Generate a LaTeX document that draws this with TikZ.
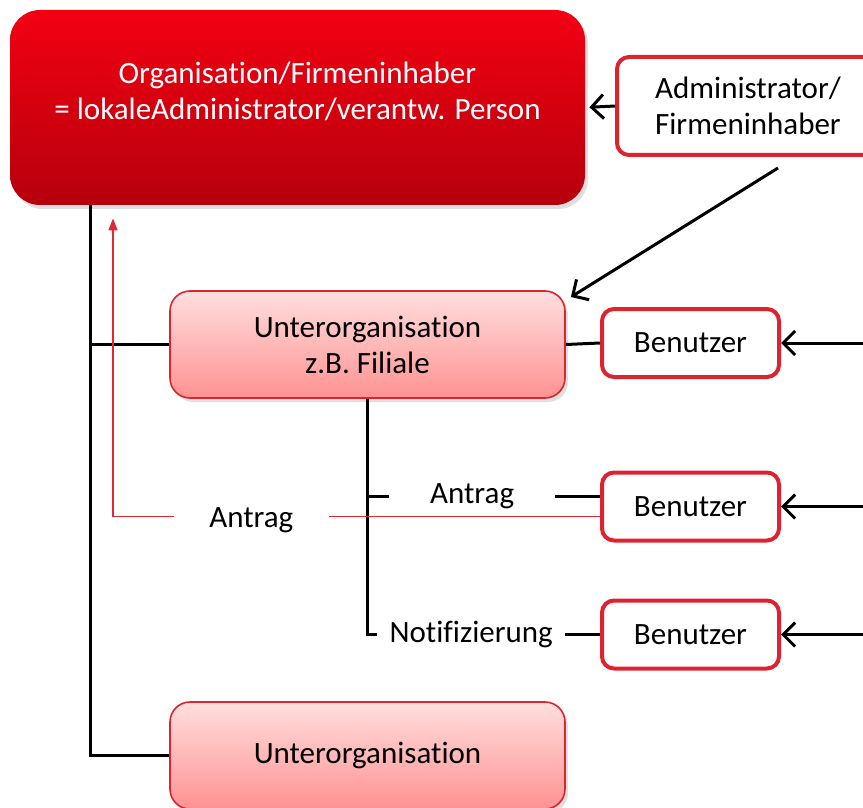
\documentclass[tikz,border=0pt]{standalone}
\usepackage{fontspec}
\setmainfont{Carlito}[RawFeature=-liga, RawFeature=-calt, RawFeature=-clig]
\usetikzlibrary{arrows.meta,shadows}

\definecolor{orgtop}{RGB}{242,0,18}
\definecolor{orgbottom}{RGB}{182,0,12}
\definecolor{subtop}{RGB}{255,222,222}
\definecolor{subbottom}{RGB}{255,146,146}
\definecolor{boxred}{RGB}{220,36,48}
\definecolor{linered}{RGB}{226,40,52}

\begin{document}
\begin{tikzpicture}[x=0.5pt,y=-0.5pt,
    font=\fontsize{15.5}{18}\selectfont,
    orgbox/.style={rounded corners=15pt, top color=orgtop, bottom color=orgbottom,
      minimum width=287.5pt, minimum height=97.5pt, inner sep=0pt,
      drop shadow={opacity=0.25, shadow xshift=1.5pt, shadow yshift=-2pt}},
    subbox/.style={rounded corners=10pt, draw=boxred, line width=0.8pt,
      top color=subtop, bottom color=subbottom, align=center,
      minimum width=197.5pt, minimum height=53.5pt, inner sep=0pt,
      drop shadow={opacity=0.25, shadow xshift=1.5pt, shadow yshift=-2pt}},
    userbox/.style={rounded corners=6pt, draw=boxred, line width=2pt, fill=white,
      minimum width=88.5pt, minimum height=34pt, inner sep=0pt, align=center},
    conn/.style={line width=1.5pt},
    arr/.style={line width=1.5pt, -{Straight Barb[length=6pt,width=12pt]}},
    redline/.style={linered, line width=0.8pt, -{Triangle[length=6pt,width=4.5pt]}},
    gaplabel/.style={fill=white, text=black, inner ysep=1pt}]
  \useasboundingbox (0,0) rectangle (863,808);

  % Boxes
  \node[orgbox] (org) at (297.5,107.5) {};
  \node[white, align=center] (orgtext) at (297.5,91)
    {Organisation/Firmeninhaber\\= lokaleAdministrator/verantw. Person};
  \node[userbox, minimum width=131pt, minimum height=49pt] (admin) at (748,106)
    {Administrator/\\Firmeninhaber};
  \node[subbox] (u1) at (367.5,344.5) {Unterorganisation\\z.B. Filiale};
  \node[subbox] (u2) at (367.5,755.5) {Unterorganisation};
  \node[userbox] (b1) at (690.5,343) {Benutzer};
  \node[userbox] (b2) at (690.5,506.5) {Benutzer};
  \node[userbox] (b3) at (690.5,634.5) {Benutzer};

  % Free ends and corners
  \coordinate (trunk) at (90,0);
  \coordinate (diagstart) at (778,168);
  \coordinate (in1) at (875,343);
  \coordinate (in2) at (875,506.5);
  \coordinate (in3) at (875,634.5);
  \coordinate (redcorner) at (113,516.5);

  % Tree lines
  \draw[conn] (org.south -| trunk) |- (u2.west);
  \draw[conn] (u1.west -| trunk) -- (u1.west);
  \draw[conn] (u1.east) -- (b1.west);
  \draw[conn] (u1.south) |- node[gaplabel, pos=0.725, minimum width=83pt] (antrag1) {Antrag}
    ([yshift=5pt]b2.west);
  \draw[conn] (u1.south) |- node[gaplabel, pos=0.723, minimum width=94pt] (notif) {Notifizierung}
    (b3.west);

  % Arrows
  \draw[arr, shorten >=2pt] (admin.west) -- (org.east);
  \draw[arr, shorten >=3pt] (diagstart) -- ([yshift=-5pt]u1.north east);
  \draw[arr] (in1) -- (b1.east);
  \draw[arr] (in2) -- (b2.east);
  \draw[arr] (in3) -- (b3.east);

  % Antrag to the organisation
  \draw[redline, shorten >=6.5pt] ([yshift=-5pt]b2.west)
    -- node[gaplabel, pos=0.716, minimum width=77.5pt, yshift=-2pt] (antrag2) {Antrag} (redcorner)
    -- (org.south -| redcorner);
\end{tikzpicture}
\end{document}
